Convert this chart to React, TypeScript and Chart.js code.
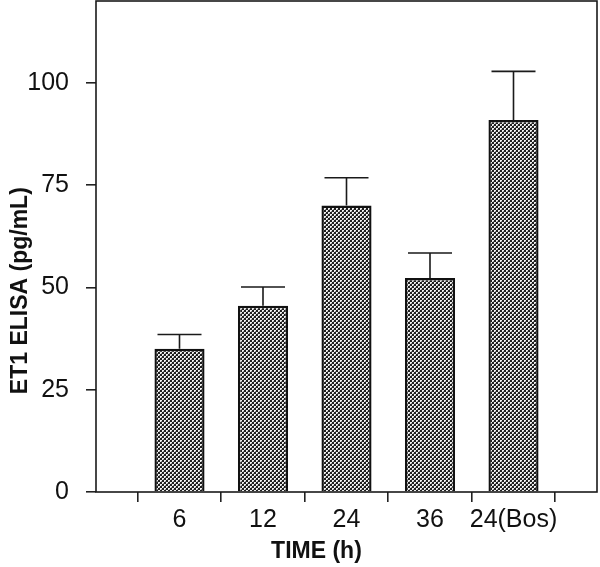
import React, { useEffect, useRef } from "react";
import { Chart, registerables } from "chart.js";

Chart.register(...registerables);

const categories = ["", "6", "12", "24", "36", "24(Bos)", ""];
const means = [null, 35, 45.5, 70, 52.3, 90.9, null];
const upperErrors = [null, 38.5, 50.1, 76.8, 58.4, 102.8, null];
const yTicks = [0, 25, 50, 75, 100];
const xTitle = "TIME (h)";
const yTitle = "ET1 ELISA (pg/mL)";

function makePattern(): CanvasPattern | string {
  const tile = document.createElement("canvas");
  tile.width = 4;
  tile.height = 4;
  const t = tile.getContext("2d");
  if (!t) return "#666";
  t.fillStyle = "#1e1e1e";
  t.fillRect(0, 0, 4, 4);
  t.fillStyle = "#efefef";
  t.fillRect(0, 0, 2, 2);
  t.fillRect(2, 2, 2, 2);
  t.fillStyle = "#8a8a8a";
  t.fillRect(1, 1, 1, 1);
  t.fillRect(3, 3, 1, 1);
  const p = t.createPattern(tile, "repeat");
  return p || "#666";
}

const extrasPlugin = {
  id: "extras",
  afterDatasetsDraw(chart: any) {
    const { ctx, chartArea } = chart;
    const y = chart.scales.y;
    const meta = chart.getDatasetMeta(0);
    ctx.save();
    // error bars
    ctx.strokeStyle = "#1a1a1a";
    ctx.lineWidth = 1.6;
    meta.data.forEach((bar: any, i: number) => {
      const m = means[i];
      const u = upperErrors[i];
      if (m == null || u == null) return;
      const x = bar.x;
      const yTop = y.getPixelForValue(u);
      const yBar = y.getPixelForValue(m);
      ctx.beginPath();
      ctx.moveTo(x, yBar);
      ctx.lineTo(x, yTop);
      ctx.moveTo(x - 22, yTop);
      ctx.lineTo(x + 22, yTop);
      ctx.stroke();
    });
    // frame
    ctx.lineWidth = 1.6;
    ctx.strokeRect(chartArea.left, chartArea.top, chartArea.right - chartArea.left, chartArea.bottom - chartArea.top);
    // titles
    ctx.fillStyle = "#111";
    ctx.font = 'bold 23px "Liberation Sans", Arial, sans-serif';
    ctx.textAlign = "center";
    ctx.textBaseline = "middle";
    const w = chartArea.right - chartArea.left;
    const h = chartArea.bottom - chartArea.top;
    ctx.fillText(xTitle, chartArea.left + w * 0.44, chartArea.bottom + 60);
    ctx.translate(21, chartArea.top + h * 0.59);
    ctx.rotate(-Math.PI / 2);
    ctx.fillText(yTitle, 0, 0);
    ctx.restore();
  },
};

export default function App() {
  const ref = useRef<HTMLCanvasElement | null>(null);
  useEffect(() => {
    if (!ref.current) return;
    const pattern = makePattern();
    const chart = new Chart(ref.current, {
      type: "bar",
      data: {
        labels: categories,
        datasets: [
          {
            data: means as any,
            backgroundColor: pattern as any,
            borderColor: "#111",
            borderWidth: 2.4,
            barPercentage: 0.6,
            categoryPercentage: 1,
          },
        ],
      },
      options: {
        animation: false,
        responsive: true,
        maintainAspectRatio: false,
        layout: { padding: { top: 1, right: 3, left: 0, bottom: 0 } },
        plugins: {
          legend: { display: false },
          title: { display: false },
          tooltip: { enabled: false },
        },
        scales: {
          x: {
            type: "category",
            offset: false,
            grid: { display: true, drawOnChartArea: false, drawTicks: true, tickLength: 10, color: "#222", lineWidth: 1.6 },
            border: { display: false },
            ticks: {
              color: "#111",
              font: { family: '"Liberation Sans", Arial, sans-serif', size: 25 },
              padding: 3,
              maxRotation: 0,
              autoSkip: false,
            },
            afterFit: (s: any) => {
              s.height = 75;
              s.paddingLeft = 0;
              s.paddingRight = 0;
            },
          },
          y: {
            min: 0,
            max: 120,
            grid: { display: true, drawOnChartArea: false, drawTicks: true, tickLength: 10, color: "#222", lineWidth: 1.6 },
            border: { display: false },
            afterBuildTicks: (s: any) => {
              s.ticks = yTicks.map((v) => ({ value: v }));
            },
            ticks: {
              color: "#111",
              font: { family: '"Liberation Sans", Arial, sans-serif', size: 25 },
              padding: 17,
              includeBounds: false,
            },
            afterFit: (s: any) => {
              s.width = 96;
              s.paddingTop = 0;
              s.paddingBottom = 0;
            },
          },
        },
      },
      plugins: [extrasPlugin],
    });
    return () => chart.destroy();
  }, []);
  return (
    <div style={{ position: "fixed", left: 0, top: 0, width: 600, height: 567, background: "#fff" }}>
      <canvas ref={ref} />
    </div>
  );
}
